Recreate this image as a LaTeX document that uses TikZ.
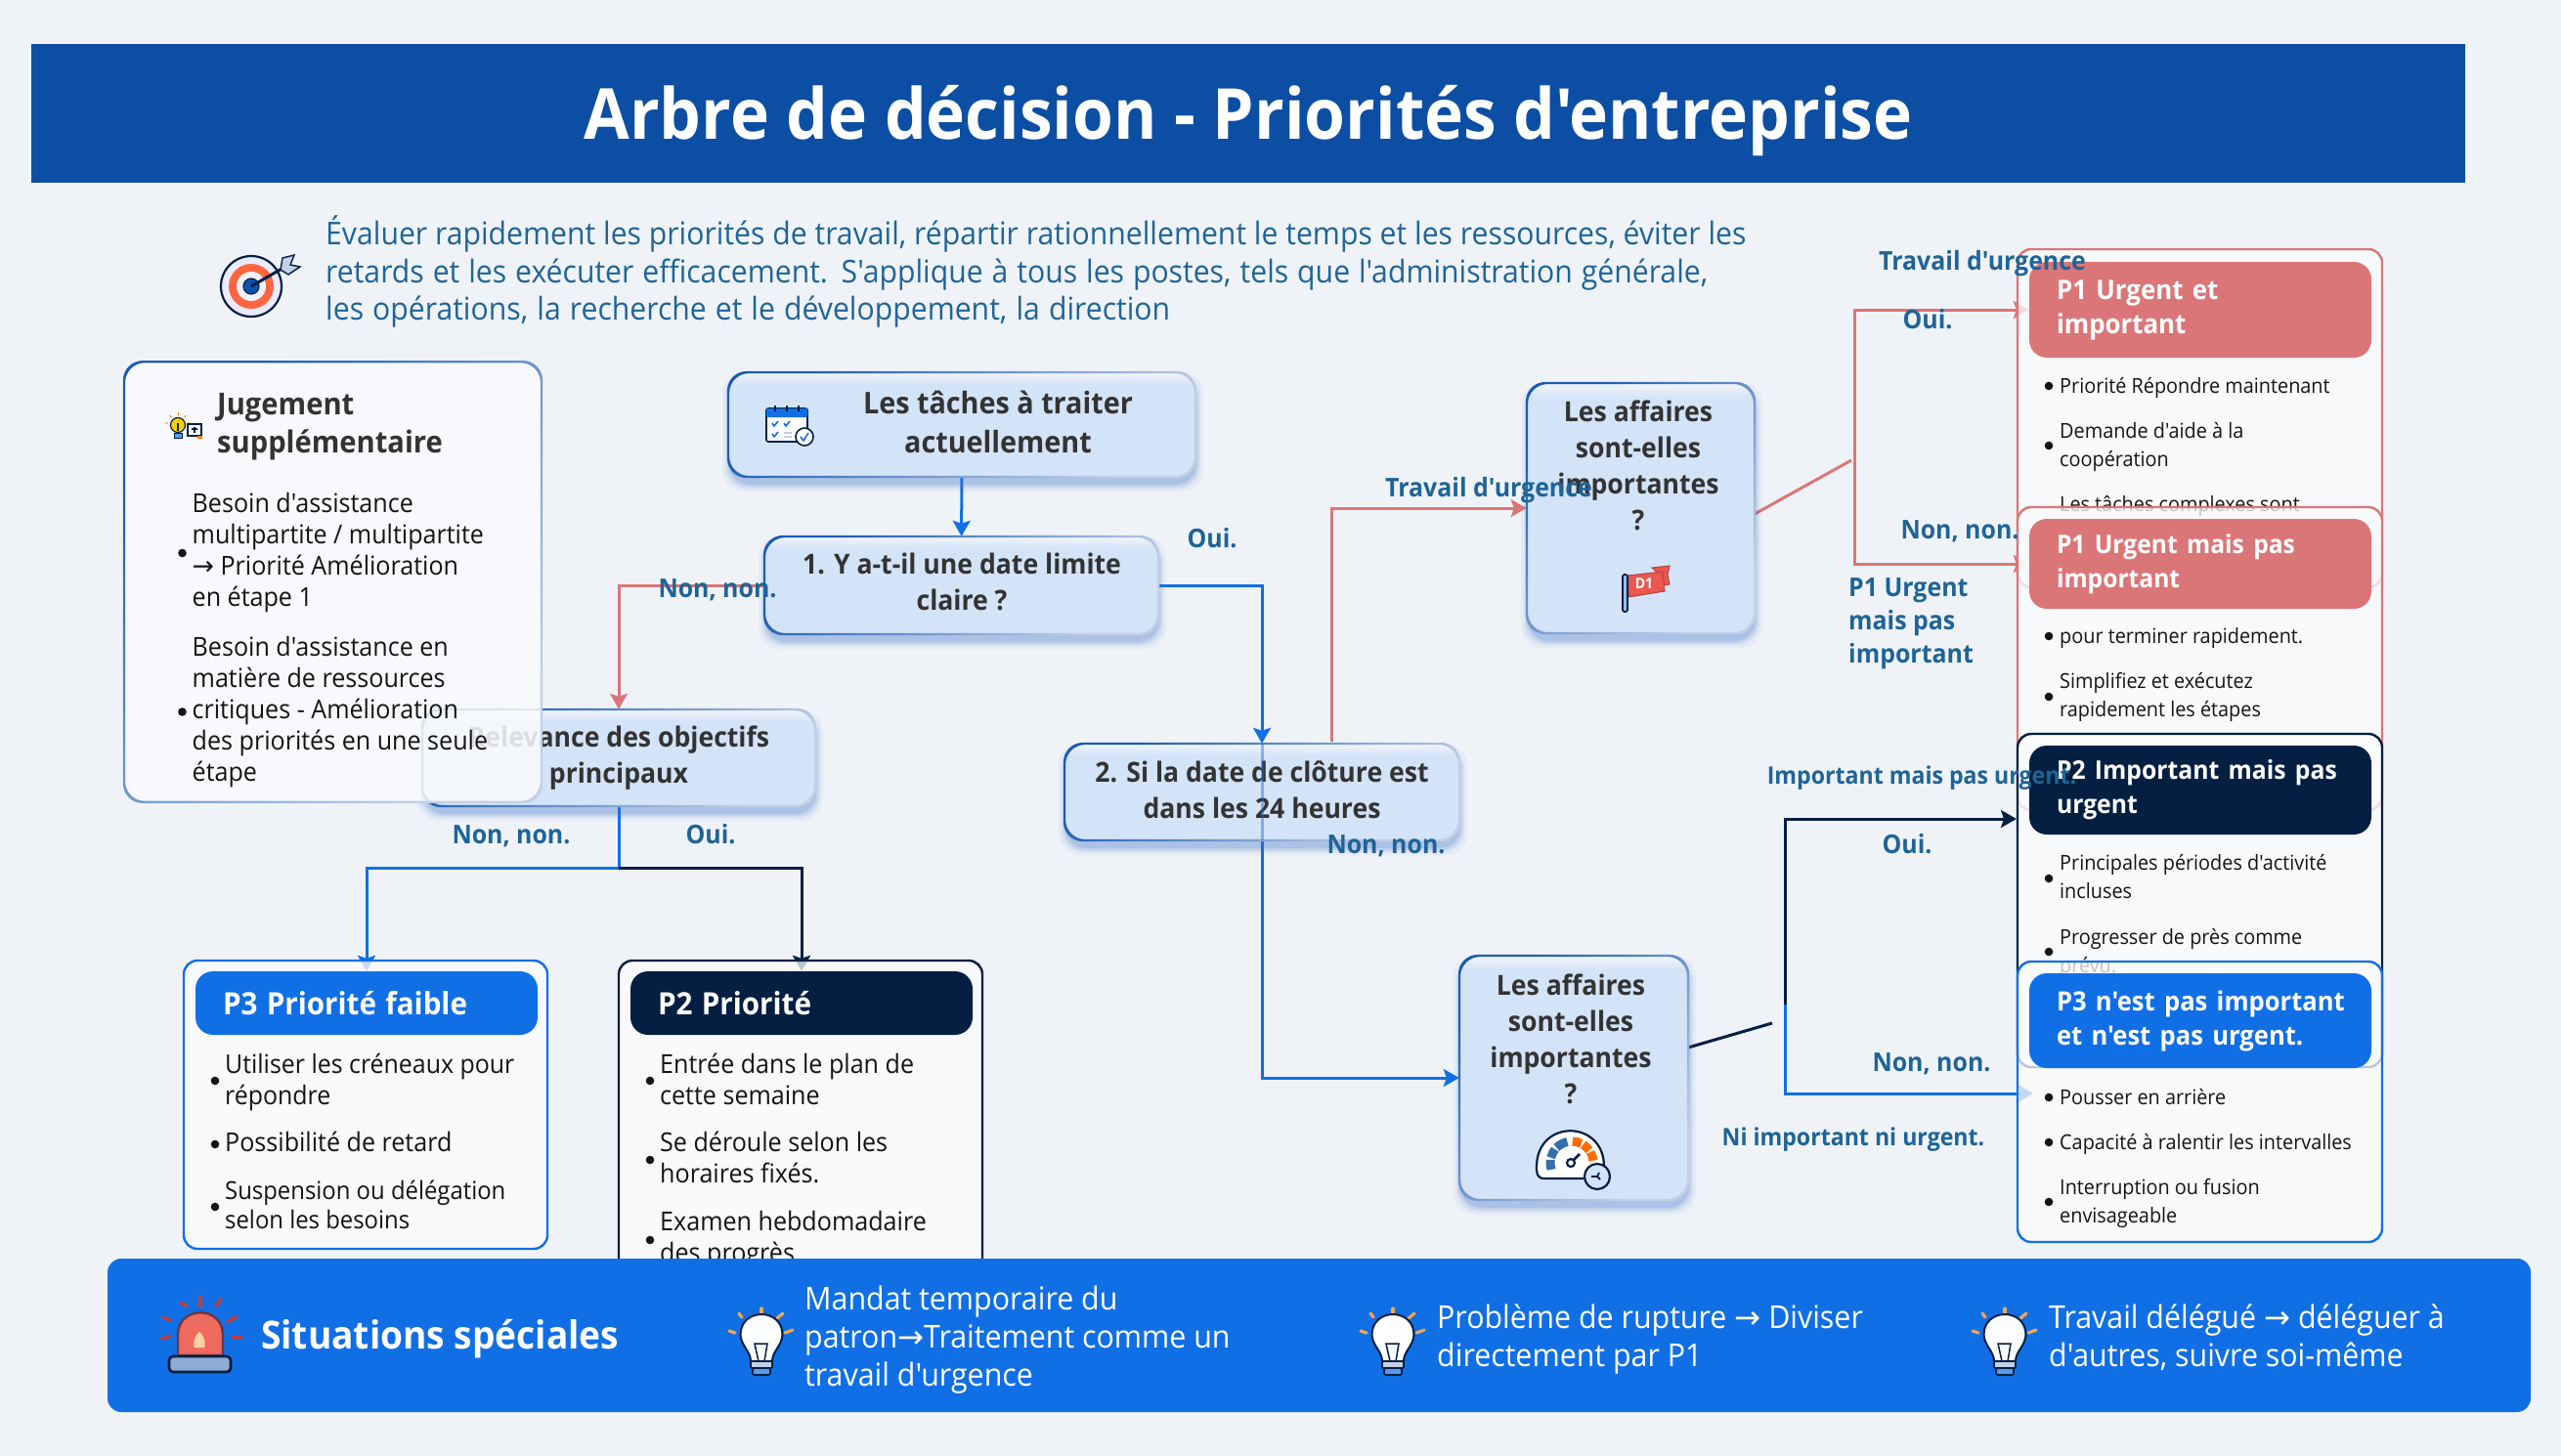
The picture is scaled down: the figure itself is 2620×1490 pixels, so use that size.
\documentclass[tikz,border=0pt]{standalone}
\usepackage{fontspec}
\defaultfontfeatures[\rmfamily]{}
\setmainfont{Open Sans}[FakeStretch=0.94]
\newfontfamily\arrowfont{DejaVu Sans}
\newcommand\arr{{\arrowfont →}}
\usetikzlibrary{arrows.meta,calc}
\definecolor{pagebg}{HTML}{EFF3F8}
\definecolor{titleblue}{HTML}{0C4EA3}
\definecolor{labelblue}{HTML}{1F6496}
\definecolor{ink}{HTML}{333333}
\definecolor{bodyink}{HTML}{141414}
\definecolor{navy}{HTML}{041F42}
\definecolor{brightblue}{HTML}{116FE6}
\definecolor{softred}{HTML}{DB7678}
\definecolor{boxfill}{HTML}{D3E3F8}
\definecolor{cardfill}{HTML}{FAFBFD}
\definecolor{bordA}{HTML}{1B5CB0}
\definecolor{bordB}{HTML}{C2D0E6}
\definecolor{shadowblue}{HTML}{3A6FC8}
\definecolor{alarmred}{HTML}{EE6A5E}
\definecolor{raydark}{HTML}{B9423F}
\definecolor{rayorange}{HTML}{F2A64E}
\definecolor{flagred}{HTML}{E9574F}
\pgfdeclarelayer{backlayer}\pgfdeclarelayer{conn}
\pgfsetlayers{backlayer,conn,main}
\pgfdeclareverticalshading{decfillA}{100bp}{color(0bp)=(boxfill);color(69bp)=(boxfill);color(75bp)=(pagebg!80!white);color(100bp)=(pagebg!80!white)}
\pgfdeclareverticalshading{decfillB}{100bp}{color(0bp)=(boxfill);color(72bp)=(boxfill);color(75bp)=(pagebg!80!white);color(100bp)=(pagebg!80!white)}
\tikzset{
 x=1pt,y=-1pt,
 tip/.tip={Stealth[length=16pt,width=18pt,inset=3pt]},
 link/.style={line width=3pt,line join=miter},
 linkblue/.style={link,draw=brightblue},
 linkred/.style={link,draw=softred},
 linknavy/.style={link,draw=navy},
 decision/.style={rectangle,rounded corners=20pt,inner sep=0pt},
 rimshade/.style={even odd rule,left color=bordA,right color=bordB,shading angle=45,rounded corners=20pt},
 dectext/.style={inner sep=0pt,align=center,text=ink,yshift=-3pt,font=\fontsize{28.3}{37}\selectfont\bfseries},
 cardbox/.style={rectangle,rounded corners=14pt,inner sep=0pt,fill=cardfill,fill opacity=.76,line width=2.4pt},
 headbox/.style={rectangle,rounded corners=18pt,inner sep=0pt,text=white,align=left,font=\fontsize{28}{35}\selectfont\bfseries},
 edgelabel/.style={inner sep=0pt,text=labelblue,yshift=-3pt,text height=19pt,text depth=7pt,font=\fontsize{26.5}{34}\selectfont\bfseries},
 edgeblock/.style={inner sep=0pt,anchor=west,align=left,yshift=-3pt,text=labelblue,font=\fontsize{26.5}{34}\selectfont\bfseries},
 leftlist/.style={anchor=west,inner sep=0pt,yshift=-2.5pt,align=left,text=bodyink,font=\fontsize{26.7}{32}\selectfont},
 rightlist/.style={anchor=west,inner sep=0pt,yshift=-2pt,align=left,text=bodyink,font=\fontsize{21.1}{29}\selectfont},
 bannertext/.style={anchor=west,inner sep=0pt,yshift=-3pt,align=left,text=white,font=\fontsize{32.3}{39}\selectfont},
}
\newcommand\su{\strut}
\newcommand\bul[2]{\fill[bodyink] (#1,#2) circle (4.3pt);}
\newcommand\decbox[6]{%
 \foreach \e/\o in {8/.06,5/.09,3/.12,1/.16}{\fill[shadowblue,opacity=\o,rounded corners=22pt] ({#2-\e+2},{#3+8-\e}) rectangle ({#4+\e},{#5+7+\e});}
 \node[decision,shade,shading=#6,minimum width={(#4-#2)*1pt},minimum height={(#5-#3)*1pt}] (#1) at ({(#2+#4)/2},{(#3+#5)/2}) {};
 \shade[rimshade]
   ({#2-1.1},{#3-1.1}) rectangle ({#4+1.1},{#5+1.1}) ({#2+1.1},{#3+1.1}) rectangle ({#4-1.1},{#5-1.1});}
\newcommand\cardbx[6]{\node[cardbox,draw=#6,minimum width={(#4-#2)*1pt},minimum height={(#5-#3)*1pt}] (#1) at ({(#2+#4)/2},{(#3+#5)/2}) {};}
\newcommand\headbx[7]{\node[headbox,fill=#6,minimum width={(#4-#2)*1pt},minimum height={(#5-#3)*1pt},text width={(#4-#2-56)*1pt}] (#1) at ({(#2+#4)/2},{(#3+#5)/2}) {#7};}
\newcommand\bulbicon[2]{\begin{scope}[shift={(#1,#2)}]
 \foreach \a/\b/\c/\d in {0/-28/0/-22,-23/-23/-20/-19,22/-23/16/-18,-33/-5/-27/-3,32/-6/24/-3}{\draw[line width=3.2pt,line cap=round,draw=rayorange] (\a,\b) -- (\c,\d);}
 \fill[white!92!boxfill,draw=navy,line width=2pt] (-11,26) .. controls (-11,16) and (-21,10) .. (-21.5,-1) .. controls (-21.5,-29) and (21.5,-29) .. (21.5,-1) .. controls (21,10) and (11,16) .. (11,26) -- cycle;
 \draw[navy,line width=1.5pt] (-3,26) -- (-7,8) -- (6,8) -- (3,26);
 \fill[bordB,draw=navy,line width=1.6pt,rounded corners=1pt] (-11,26) rectangle (11,33);
 \fill[brightblue!70!white,draw=navy,line width=1.6pt,rounded corners=2pt] (-9,33) rectangle (9,40);
\end{scope}}
\begin{document}
\begin{tikzpicture}
\begin{pgfonlayer}{backlayer}
 \fill[pagebg] (0,0) rectangle (2620,1490);
\end{pgfonlayer}
\useasboundingbox (0,0) rectangle (2620,1490);
% title
\node[rectangle,inner sep=0pt,fill=titleblue,minimum width=2490pt,minimum height=142pt,text=white,font=\fontsize{72}{84}\selectfont\bfseries] (title) at (1277,116) {\raisebox{-27pt}[0pt][0pt]{Arbre de décision - Priorités d'entreprise}};
% intro
\node[anchor=west,inner sep=0pt,align=left,yshift=-3pt,text=labelblue,font=\fontsize{32.1}{38.5}\selectfont] (intro) at (333,277) {\su Évaluer rapidement les priorités de travail, répartir rationnellement le temps et les ressources, éviter les\\ \makebox[1414pt][s]{retards et les exécuter efficacement. S'applique à tous les postes, tels que l'administration générale,}\\ \makebox[864pt][s]{les opérations, la recherche et le développement, la direction}\su};
% target icon
\begin{scope}[shift={(257,293)}]
 \fill[white!92!blue,draw=navy,line width=2.2pt] (0,0) circle (31pt);
 \fill[red!60!orange!75!white] (0,0) circle (23pt);
 \fill[white!95!blue] (0,0) circle (15pt);
 \fill[brightblue!65!navy] (0,0) circle (8pt);
 \draw[navy,line width=1.2pt] (0,0) circle (8pt);
 \draw[navy,line width=3pt] (0,0) -- (33,-19);
 \fill[bordB,draw=navy,line width=1.4pt] (30,-17) -- (32,-29) -- (44,-32) -- (40,-22) -- (50,-20) -- (38,-12) -- cycle;
\end{scope}
% decision boxes
\decbox{n0}{745}{381}{1223}{488}{decfillA}
\node[dectext,font=\fontsize{30.6}{40}\selectfont\bfseries] (n0t) at (1021,432) {\su Les tâches à traiter\\actuellement\su};
\decbox{n1}{782}{549}{1185}{649}{decfillA}
\node[dectext] (n1t) at (984,596) {\su 1. Y a-t-il une date limite\\claire ?\su};
\decbox{rel}{432}{726}{834}{825}{decfillA}
\node[dectext] (relt) at (633,773) {\su Relevance des objectifs\\principaux\su};
\decbox{n2}{1089}{761}{1493}{860}{decfillA}
\node[dectext] (n2t) at (1291,809) {\su 2. Si la date de clôture est\\dans les 24 heures\su};
\decbox{n3}{1562}{392}{1795}{648}{decfillB}
\node[dectext] (n3t) at (1676,477) {\su Les affaires\\sont-elles\\importantes\\?\su};
\decbox{n4}{1493}{978}{1727}{1228}{decfillB}
\node[dectext] (n4t) at (1607,1064) {\su Les affaires\\sont-elles\\importantes\\?\su};
% calendar icon
\begin{scope}[shift={(784,418)}]
 \fill[white,draw=navy,line width=1.6pt,rounded corners=2pt] (0,0) rectangle (42,34);
 \fill[brightblue,rounded corners=2pt] (0,0) rectangle (42,9);
 \foreach \a in {9,21,33}{\draw[navy,line width=1.8pt] (\a,-3) -- (\a,3);}
 \draw[brightblue,line width=1.6pt] (6,15) -- (8,18) -- (12,13) (18,15) -- (20,18) -- (24,13) (6,26) -- (8,29) -- (12,24);
 \draw[bordB,line width=1.4pt] (18,25) -- (26,25) (18,29) -- (26,29);
 \fill[white,draw=navy,line width=1.6pt] (39,29) circle (9pt);
 \draw[brightblue,line width=1.6pt] (35,29) -- (38,33) -- (43,25);
\end{scope}
% flag icon
\fill[flagred,draw=raydark,line width=1pt] (1690,581) -- (1708,579) -- (1706,588) -- (1708,598) -- (1702,599) -- (1700,590) -- cycle;
\fill[flagred,draw=raydark,line width=1pt] (1665,589) -- (1701,585) -- (1703,605) -- (1666,611) -- cycle;
\fill[brightblue!45!white,draw=navy,line width=1.6pt,rounded corners=1.5pt] (1660,588) rectangle (1665,626);
\node[inner sep=0pt,text=white,font=\fontsize{15}{16}\selectfont\bfseries] (flagt) at (1682,597) {D1};
% gauge icon
\begin{scope}[shift={(1607,1206)}]
 \fill[white,draw=navy,line width=2.2pt] (-27,0) .. controls (-35,0) and (-35,-6) .. (-35,-12) .. controls (-35,-61) and (34,-61) .. (34,-12) -- (34,0) -- cycle;
 \begin{scope}[shift={(1,-16)}]
 \foreach \s/\e in {198/172,166/141,135/102}{\draw[line width=9pt,draw=cyan!55!blue!80!black] (\s:22pt) arc[start angle=\s,end angle=\e,radius=22pt];}
 \foreach \s/\e in {88/64,58/36,30/6}{\draw[line width=9pt,draw=orange!85!red] (\s:22pt) arc[start angle=\s,end angle=\e,radius=22pt];}
 \draw[navy,line width=2.2pt] (-1,0) circle (4pt);
 \draw[navy,line width=2.6pt] (2,-3) -- (8,-9);
 \end{scope}
 \fill[boxfill,draw=navy,line width=2.2pt] (27,-2) circle (13pt);
 \draw[navy,line width=1.8pt] (21,-2) -- (27,-2) -- (29,-6) (27,-2) -- (30,1);
\end{scope}
% cards lower left
\cardbx{cp3}{188}{983}{560}{1278}{brightblue}
\headbx{hp3}{200}{994}{550}{1059}{brightblue}{\fontsize{31.5}{36}\selectfont P3 Priorité faible}
\bul{220}{1106}\node[leftlist,font=\fontsize{26.5}{32}\selectfont] (a1) at (230,1106) {\su Utiliser les créneaux pour\\répondre\su};
\bul{220}{1171}\node[leftlist] (a2) at (230,1170) {\su Possibilité de retard\su};
\bul{220}{1235}\node[leftlist,font=\fontsize{25.4}{30}\selectfont] (a3) at (230,1234) {\su Suspension ou délégation\\selon les besoins\su};
\cardbx{cp2}{633}{983}{1005}{1330}{navy}
\headbx{hp2}{645}{994}{995}{1059}{navy}{\fontsize{31.5}{36}\selectfont P2 Priorité}
\bul{665}{1106}\node[leftlist] (b1) at (675,1106) {\su Entrée dans le plan de\\cette semaine\su};
\bul{665}{1187}\node[leftlist] (b2) at (675,1186) {\su Se déroule selon les\\horaires fixés.\su};
\bul{665}{1269}\node[leftlist] (b3) at (675,1267) {\su Examen hebdomadaire\\des progrès\su};
% cards right
\cardbx{c1}{2064}{255}{2437}{601}{softred}
\headbx{h1}{2076}{268}{2426}{366}{softred}{\fontsize{27.5}{37}\selectfont P1 Urgent et\\important}
\bul{2096}{395}\node[rightlist] (c1a) at (2107,395) {\su Priorité Répondre maintenant\su};
\bul{2096}{456}\node[rightlist] (c1b) at (2107,455) {\su Demande d'aide à la\\coopération\su};
\node[rightlist] (c1c) at (2107,516) {\su Les tâches complexes sont\su};
\cardbx{c2}{2064}{519}{2437}{829}{softred}
\headbx{h2}{2076}{531}{2426}{623}{softred}{\fontsize{26.2}{34}\selectfont P1 Urgent mais pas\\important}
\bul{2096}{651}\node[rightlist] (c2a) at (2107,651) {\su pour terminer rapidement.\su};
\bul{2096}{713}\node[rightlist] (c2b) at (2107,711) {\su Simplifiez et exécutez\\rapidement les étapes\su};
\cardbx{c3}{2064}{751}{2437}{1092}{navy}
\headbx{h3}{2076}{763}{2426}{854}{navy}{\fontsize{26.3}{33}\selectfont \mbox{P2 Important mais pas}\\urgent}
\bul{2096}{899}\node[rightlist] (c3a) at (2107,897) {\su Principales périodes d'activité\\incluses\su};
\bul{2096}{974}\node[rightlist] (c3b) at (2107,973) {\su Progresser de près comme\\prévu.\su};
\cardbx{c4}{2064}{984}{2437}{1271}{brightblue}
\headbx{h4}{2076}{996}{2426}{1093}{brightblue}{\fontsize{27.2}{37}\selectfont \mbox{P3 n'est pas important}\\et n'est pas urgent.}
\bul{2096}{1123}\node[rightlist] (c4a) at (2107,1123) {\su Pousser en arrière\su};
\bul{2096}{1169}\node[rightlist] (c4b) at (2107,1169) {\su Capacité à ralentir les intervalles\su};
\bul{2096}{1230}\node[rightlist] (c4c) at (2107,1229) {\su Interruption ou fusion\\envisageable\su};
% supplementary judgement box
\node[rectangle,rounded corners=20pt,inner sep=0pt,fill=cardfill,fill opacity=.86,minimum width=427pt,minimum height=451pt] (jug) at (340.5,595.5) {};
\shade[rimshade] (125.9,369.1) rectangle (555.1,821.9) (128.1,371.3) rectangle (552.9,819.7);
\node[anchor=west,inner sep=0pt,yshift=-3pt,align=left,text=ink,font=\fontsize{31}{39.5}\selectfont\bfseries] (jugt) at (222,433) {\su Jugement\\supplémentaire\su};
\begin{scope}[shift={(182,435)}]
 \fill[yellow!70!orange,draw=navy,line width=1.2pt] (0,0) circle (7.5pt);
 \draw[navy,line width=1.2pt] (0,-2) -- (0,6);
 \fill[brightblue!70!white,draw=navy,line width=1pt] (-4,8) rectangle (4,13);
 \foreach \a in {90,50,130,10,170}{\draw[orange,line width=.9pt] (\a:10pt) -- (\a:13pt);}
 \draw[navy,line width=1.2pt] (10,-1) rectangle (24,11);
 \draw[navy,line width=1.2pt] (17,2) -- (17,8) (14,4) -- (20,4);
 \fill[orange] (20,11) rectangle (25,14);
\end{scope}
\bul{186.5}{566}\node[leftlist] (j1) at (196.5,564) {\su Besoin d'assistance\\multipartite / multipartite\\\arr{} Priorité Amélioration\\en étape 1\su};
\bul{186.5}{728.5}\node[leftlist] (j2) at (196.5,727) {\su Besoin d'assistance en\\matière de ressources\\critiques - Amélioration\\des priorités en une seule\\étape\su};
% banner
\node[rectangle,rounded corners=14pt,inner sep=0pt,fill=brightblue,minimum width=2479pt,minimum height=157pt] (banner) at (1349.5,1366.5) {};
\begin{scope}[shift={(204,1365)}]
 \foreach \a/\b/\c/\d in {1/-38/1/-28,-19/-32/-13/-28,22/-36/17/-28,-37/-17/-30/-14,29/-12/38/-18,-39/5/-30/2,34/3/43/4}{\draw[line width=3.5pt,line cap=round,draw=raydark] (\a,\b) -- (\c,\d);}
 \fill[alarmred,draw=raydark!60!navy,line width=2.4pt] (-22,22) -- (-22,0) .. controls (-21,-29) and (23,-29) .. (24,0) -- (24,22) -- cycle;
 \fill[orange!35!white] (0,-2) .. controls (-7,3) and (-6,14) .. (-5,14) -- (5,14) .. controls (6,14) and (7,3) .. (0,-2) -- cycle;
 \fill[bordA!50!white,draw=navy,line width=2.8pt,rounded corners=4pt] (-31,23) rectangle (32,39);
\end{scope}
\node[anchor=west,inner sep=0pt,yshift=-3pt,text=white,font=\fontsize{39.5}{46}\selectfont\bfseries] (sit) at (267,1368) {\su Situations spéciales\su};
\bulbicon{779}{1367}
\node[bannertext] (s1) at (823,1369) {\su Mandat temporaire du\\patron\arr{}Traitement comme un\\travail d'urgence\su};
\bulbicon{1425}{1367}
\node[bannertext] (s2) at (1470,1368.5) {\su Problème de rupture \arr{} Diviser\\directement par P1\su};
\bulbicon{2051}{1367}
\node[bannertext] (s3) at (2096,1368.5) {\su Travail délégué \arr{} déléguer à\\d'autres, suivre soi-même\su};
% connectors
\coordinate (jn) at (633,888);
\coordinate (r2) at (1362,759);
\coordinate (a3s) at (1795,526);
\coordinate (a3e) at (1894,471);
\coordinate (vr) at (1897,447);
\coordinate (a4s) at (1727,1072);
\coordinate (a4e) at (1813,1047);
\coordinate (vn) at (1826.5,1027.5);
\coordinate (t3) at (2063,838);
\coordinate (t4) at (2080,1119);
\begin{pgfonlayer}{conn}
 \draw[linkblue,-{tip}] (n0) -- (n1);
 \draw[linkblue,-{tip}] (n1.east) -| (n2.north);
 \draw[linkblue,-{tip}] (n2.south) |- (n4.west);
 \draw[linkred,-{tip}] (n1.west) -| (rel.north);
 \draw[linkred,-{tip}] (r2) |- (n3.west);
 \draw[linkred] (a3s) -- (a3e);
 \draw[linkred,{tip}-{tip}] (h1.west) -| (vr) |- (h2.west);
 \draw[linkblue,-{tip}] (rel.south) -- (jn) -| (hp3.north);
 \draw[linknavy,-{tip}] (jn) -| (hp2.north);
 \draw[linknavy] (a4s) -- (a4e);
 \draw[linknavy,-{tip}] (vn) |- (t3);
 \draw[linkblue,-{tip}] (vn) |- (t4);
\end{pgfonlayer}
\draw[brightblue,line width=3pt,opacity=.45] (n2.north) -- (n2.south);
% edge labels
\node[edgelabel] (l1) at (734,602) {Non, non.};
\node[edgelabel] (l2) at (1240,551) {Oui.};
\node[edgelabel] (l3) at (523,854) {Non, non.};
\node[edgelabel] (l4) at (727,854) {Oui.};
\node[edgelabel] (l5) at (1523,499) {Travail d'urgence};
\node[edgelabel] (l6) at (1418,864) {Non, non.};
\node[edgelabel] (l7) at (2028,267) {Travail d'urgence};
\node[edgelabel] (l8) at (1972,327) {Oui.};
\node[edgelabel] (l9) at (2005,542) {Non, non.};
\node[edgeblock] (l10) at (1891,635) {\su P1 Urgent\\mais pas\\important\su};
\node[edgelabel,font=\fontsize{24.6}{30}\selectfont\bfseries] (l11) at (1966,793) {Important mais pas urgent.};
\node[edgelabel] (l12) at (1951,864) {Oui.};
\node[edgelabel] (l13) at (1976,1087) {Non, non.};
\node[edgelabel,font=\fontsize{24.6}{30}\selectfont\bfseries] (l14) at (1896,1163) {Ni important ni urgent.};
\end{tikzpicture}
\end{document}
